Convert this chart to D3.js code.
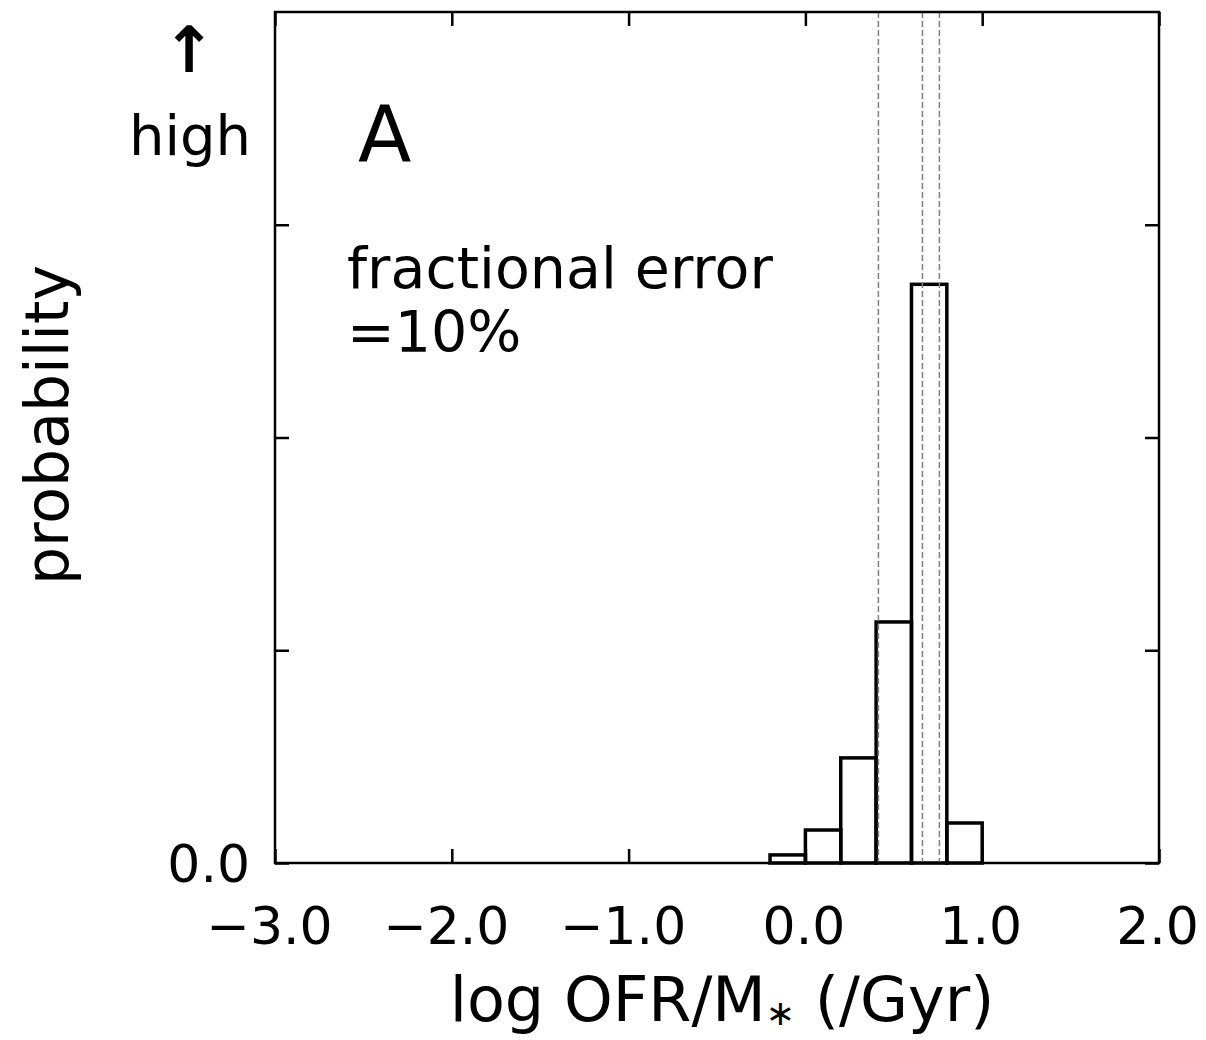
<!DOCTYPE html>
<html>
<head>
<meta charset="utf-8">
<script src="https://cdn.jsdelivr.net/npm/d3@7"></script>
<style>
  html, body { margin: 0; padding: 0; background: #fff; }
  svg text { font-family: "DejaVu Sans", sans-serif; fill: #000; }
</style>
</head>
<body>
<svg id="chart" width="1206" height="1040"></svg>
<script>
// ---- data ----
const binEdges = [-0.2, 0.0, 0.2, 0.4, 0.6, 0.8, 1.0];
const binDensity = [0.038, 0.155, 0.494, 1.133, 2.72, 0.188];
const refLines = [0.413, 0.662, 0.758];
const xTicks = [-3, -2, -1, 0, 1, 2];
const xTickLabels = ["\u22123.0", "\u22122.0", "\u22121.0", "0.0", "1.0", "2.0"];
const yTicks = [0, 1, 2, 3];
const yTickLabels = ["0.0", "", "", ""];

const svg = d3.select("#chart");
const L = 275, R = 1159, T = 12, B = 863;

const x = d3.scaleLinear().domain([-3, 2]).range([L, R]);
const y = d3.scaleLinear().domain([0, 4]).range([B, T]);

const bins = binDensity.map((v, i) => ({x0: binEdges[i], x1: binEdges[i + 1], v}));

// bars (outline only)
svg.append("g").selectAll("rect").data(bins).join("rect")
  .attr("x", d => x(d.x0))
  .attr("y", d => y(d.v))
  .attr("width", d => x(d.x1) - x(d.x0))
  .attr("height", d => y(0) - y(d.v))
  .attr("fill", "none")
  .attr("stroke", "#000")
  .attr("stroke-width", 3.5);

// dashed reference lines
svg.append("g").selectAll("line").data(refLines).join("line")
  .attr("x1", d => x(d)).attr("x2", d => x(d))
  .attr("y1", T).attr("y2", B)
  .attr("stroke", "#808080")
  .attr("stroke-width", 1.5)
  .attr("stroke-dasharray", "6,3");

// axes with inward ticks
const tickLen = 14;
const axB = svg.append("g").attr("transform", `translate(0,${B})`)
  .call(d3.axisBottom(x).tickValues(xTicks).tickSizeInner(-tickLen).tickSizeOuter(0)
    .tickFormat((d, i) => xTickLabels[i]).tickPadding(tickLen + 30));
const axT = svg.append("g").attr("transform", `translate(0,${T})`)
  .call(d3.axisTop(x).tickValues(xTicks).tickSizeInner(-tickLen).tickSizeOuter(0).tickFormat(""));
const axL = svg.append("g").attr("transform", `translate(${L},0)`)
  .call(d3.axisLeft(y).tickValues(yTicks).tickSizeInner(-tickLen).tickSizeOuter(0)
    .tickFormat((d, i) => yTickLabels[i]).tickPadding(tickLen + 11));
const axR = svg.append("g").attr("transform", `translate(${R},0)`)
  .call(d3.axisRight(y).tickValues(yTicks).tickSizeInner(-tickLen).tickSizeOuter(0).tickFormat(""));

[axB, axT, axL, axR].forEach(a => {
  a.select(".domain").remove();
  a.selectAll(".tick line").attr("stroke", "#000").attr("stroke-width", 2.5);
});
axB.selectAll(".tick text").attr("font-size", 52).attr("font-family", "DejaVu Sans").attr("fill", "#000")
  .attr("dy", "0.71em").attr("dx", d => d < 0 ? -6 : -2);
axL.selectAll(".tick text").attr("font-size", 52).attr("font-family", "DejaVu Sans").attr("fill", "#000").attr("dy", "0.36em");

// frame
svg.append("rect").attr("x", L).attr("y", T).attr("width", R - L).attr("height", B - T)
  .attr("fill", "none").attr("stroke", "#000").attr("stroke-width", 2.5);

// annotations
svg.append("text").attr("x", 358).attr("y", 162).attr("font-size", 78).text("A");
svg.append("text").attr("x", 347).attr("y", 288).attr("font-size", 57).text("fractional error");
svg.append("text").attr("x", 347).attr("y", 352).attr("font-size", 57).text("=10%");
svg.append("text").attr("x", 190).attr("y", 155).attr("font-size", 56).attr("text-anchor", "middle").text("high");
svg.append("text").attr("x", 189).attr("y", 72).attr("font-size", 64).attr("font-weight", "bold")
  .attr("text-anchor", "middle").text("\u2191");

// axis titles
svg.append("text").attr("transform", "translate(68,425) rotate(-90)")
  .attr("font-size", 60).attr("text-anchor", "middle").text("probability");

const xl = svg.append("text").attr("x", 722).attr("y", 1021).attr("font-size", 62).attr("text-anchor", "middle");
xl.append("tspan").text("log OFR/M");
xl.append("tspan").attr("font-size", 35).attr("dy", 4).text("\u2217");
xl.append("tspan").attr("dy", -4).text(" (/Gyr)");
</script>
</body>
</html>
